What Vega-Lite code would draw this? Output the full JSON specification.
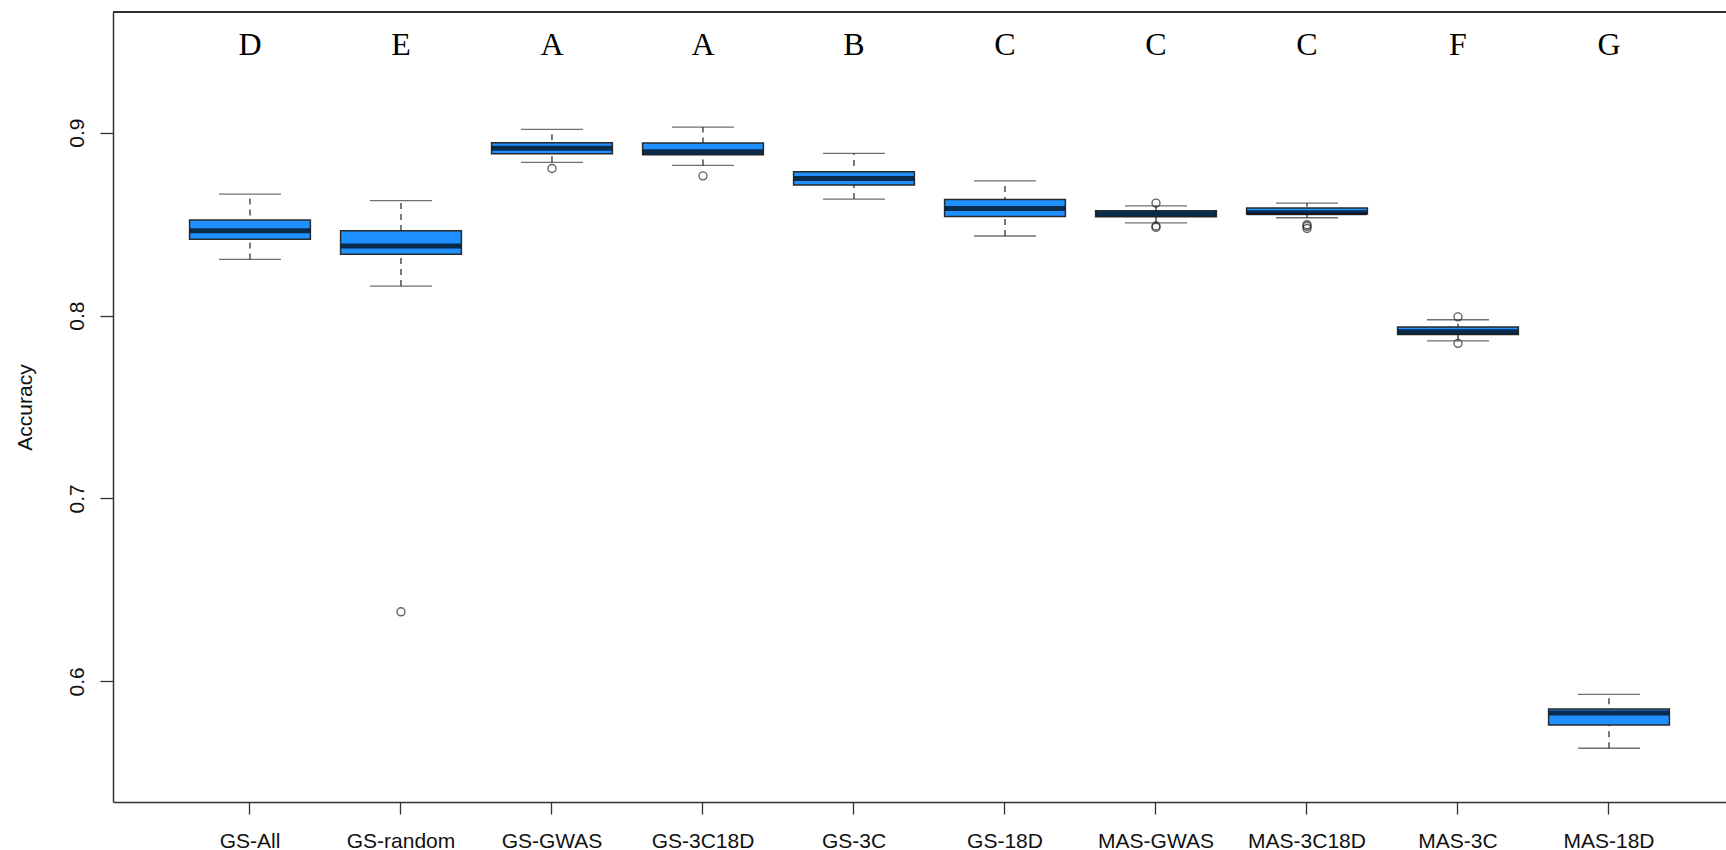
{
  "$schema": "https://vega.github.io/schema/vega-lite/v6.json",
  "autosize": "none",
  "width": 1613,
  "height": 790,
  "padding": {"left": 113, "top": 12, "right": 0, "bottom": 48},
  "background": "white",
  "config": {
    "view": {"stroke": null},
    "font": "Liberation Sans"
  },
  "datasets": {
    "boxes": [
      {"method": "GS-All", "lower": 0.8307, "q1": 0.8418, "median": 0.8464, "q3": 0.8522, "upper": 0.8664, "letter": "D"},
      {"method": "GS-random", "lower": 0.8161, "q1": 0.8335, "median": 0.8380, "q3": 0.8464, "upper": 0.8628, "letter": "E"},
      {"method": "GS-GWAS", "lower": 0.8838, "q1": 0.8885, "median": 0.8915, "q3": 0.8945, "upper": 0.9018, "letter": "A"},
      {"method": "GS-3C18D", "lower": 0.8821, "q1": 0.8879, "median": 0.8896, "q3": 0.8943, "upper": 0.9031, "letter": "A"},
      {"method": "GS-3C", "lower": 0.8637, "q1": 0.8714, "median": 0.8750, "q3": 0.8786, "upper": 0.8887, "letter": "B"},
      {"method": "GS-18D", "lower": 0.8435, "q1": 0.8542, "median": 0.8586, "q3": 0.8635, "upper": 0.8736, "letter": "C"},
      {"method": "MAS-GWAS", "lower": 0.8507, "q1": 0.8540, "median": 0.8557, "q3": 0.8573, "upper": 0.8600, "letter": "C"},
      {"method": "MAS-3C18D", "lower": 0.8535, "q1": 0.8555, "median": 0.8562, "q3": 0.8588, "upper": 0.8615, "letter": "C"},
      {"method": "MAS-3C", "lower": 0.7862, "q1": 0.7897, "median": 0.7911, "q3": 0.7938, "upper": 0.7977, "letter": "F"},
      {"method": "MAS-18D", "lower": 0.5634, "q1": 0.5761, "median": 0.5827, "q3": 0.5849, "upper": 0.5929, "letter": "G"}
    ],
    "outliers": [
      {"method": "GS-random", "value": 0.638},
      {"method": "GS-GWAS", "value": 0.8804},
      {"method": "GS-3C18D", "value": 0.8764},
      {"method": "MAS-GWAS", "value": 0.8615},
      {"method": "MAS-GWAS", "value": 0.8490},
      {"method": "MAS-GWAS", "value": 0.8482},
      {"method": "MAS-3C18D", "value": 0.8497},
      {"method": "MAS-3C18D", "value": 0.8488},
      {"method": "MAS-3C18D", "value": 0.8476},
      {"method": "MAS-3C", "value": 0.7993},
      {"method": "MAS-3C", "value": 0.7848}
    ]
  },
  "encoding": {
    "x": {
      "field": "method",
      "type": "nominal",
      "sort": ["GS-All", "GS-random", "GS-GWAS", "GS-3C18D", "GS-3C", "GS-18D", "MAS-GWAS", "MAS-3C18D", "MAS-3C", "MAS-18D"],
      "scale": {"type": "band", "paddingInner": 0, "paddingOuter": 0.341, "align": 0.597, "round": false},
      "axis": {
        "title": null,
        "labelAngle": 0,
        "labelFont": "Liberation Sans",
        "labelFontSize": 21,
        "labelColor": "#111",
        "labelPadding": 16,
        "labelBaseline": "top",
        "tickSize": 12,
        "tickColor": "#333",
        "tickWidth": 1.3,
        "domainColor": "#333",
        "domainWidth": 1.5,
        "grid": false
      }
    }
  },
  "layer": [
    {
      "data": {"name": "boxes"},
      "mark": {"type": "rule", "color": "#333", "strokeWidth": 1.3, "strokeDash": [6, 5]},
      "encoding": {
        "y": {
          "field": "lower",
          "type": "quantitative",
          "scale": {"domain": [0.534, 0.966], "nice": false, "zero": false},
          "axis": {
            "title": "Accuracy",
            "values": [0.6, 0.7, 0.8, 0.9],
            "format": ".1f",
            "grid": false,
            "labelAngle": 270,
            "labelAlign": "center",
            "labelBaseline": "alphabetic",
            "labelFont": "Liberation Sans",
            "labelFontSize": 21,
            "labelColor": "#111",
            "labelPadding": 17,
            "tickSize": 13,
            "tickColor": "#333",
            "tickWidth": 1.3,
            "domainColor": "#333",
            "domainWidth": 1.5,
            "titleFont": "Liberation Sans",
            "titleFontSize": 21,
            "titleFontWeight": "normal",
            "titleColor": "#111",
            "titleAngle": 270,
            "titleAlign": "center",
            "titleBaseline": "alphabetic",
            "titleX": -82,
            "titleY": 395
          }
        },
        "y2": {"field": "upper"}
      }
    },
    {
      "data": {"name": "boxes"},
      "mark": {"type": "tick", "color": "#333", "size": 62, "thickness": 1.3},
      "encoding": {"y": {"field": "lower", "type": "quantitative"}}
    },
    {
      "data": {"name": "boxes"},
      "mark": {"type": "tick", "color": "#333", "size": 62, "thickness": 1.3},
      "encoding": {"y": {"field": "upper", "type": "quantitative"}}
    },
    {
      "data": {"name": "boxes"},
      "mark": {"type": "bar", "fill": "#1E90FF", "stroke": "#2a2a2a", "strokeWidth": 1.5, "width": {"band": 0.8}},
      "encoding": {
        "y": {"field": "q1", "type": "quantitative"},
        "y2": {"field": "q3"}
      }
    },
    {
      "data": {"name": "boxes"},
      "mark": {"type": "tick", "color": "#000", "size": 120, "thickness": 5},
      "encoding": {"y": {"field": "median", "type": "quantitative"}}
    },
    {
      "data": {"name": "outliers"},
      "mark": {"type": "point", "shape": "circle", "filled": false, "stroke": "#222", "strokeWidth": 1.4, "size": 64},
      "encoding": {"y": {"field": "value", "type": "quantitative"}}
    },
    {
      "data": {"name": "boxes"},
      "mark": {"type": "text", "font": "Liberation Serif", "fontSize": 32, "color": "#000", "baseline": "alphabetic", "align": "center"},
      "encoding": {
        "y": {"datum": 0.9425, "type": "quantitative"},
        "text": {"field": "letter"}
      }
    },
    {
      "data": {"name": "boxes"},
      "mark": {"type": "rule", "color": "#333", "strokeWidth": 1.5},
      "encoding": {"y": {"datum": 0.966, "type": "quantitative"}, "x": null}
    }
  ]
}
